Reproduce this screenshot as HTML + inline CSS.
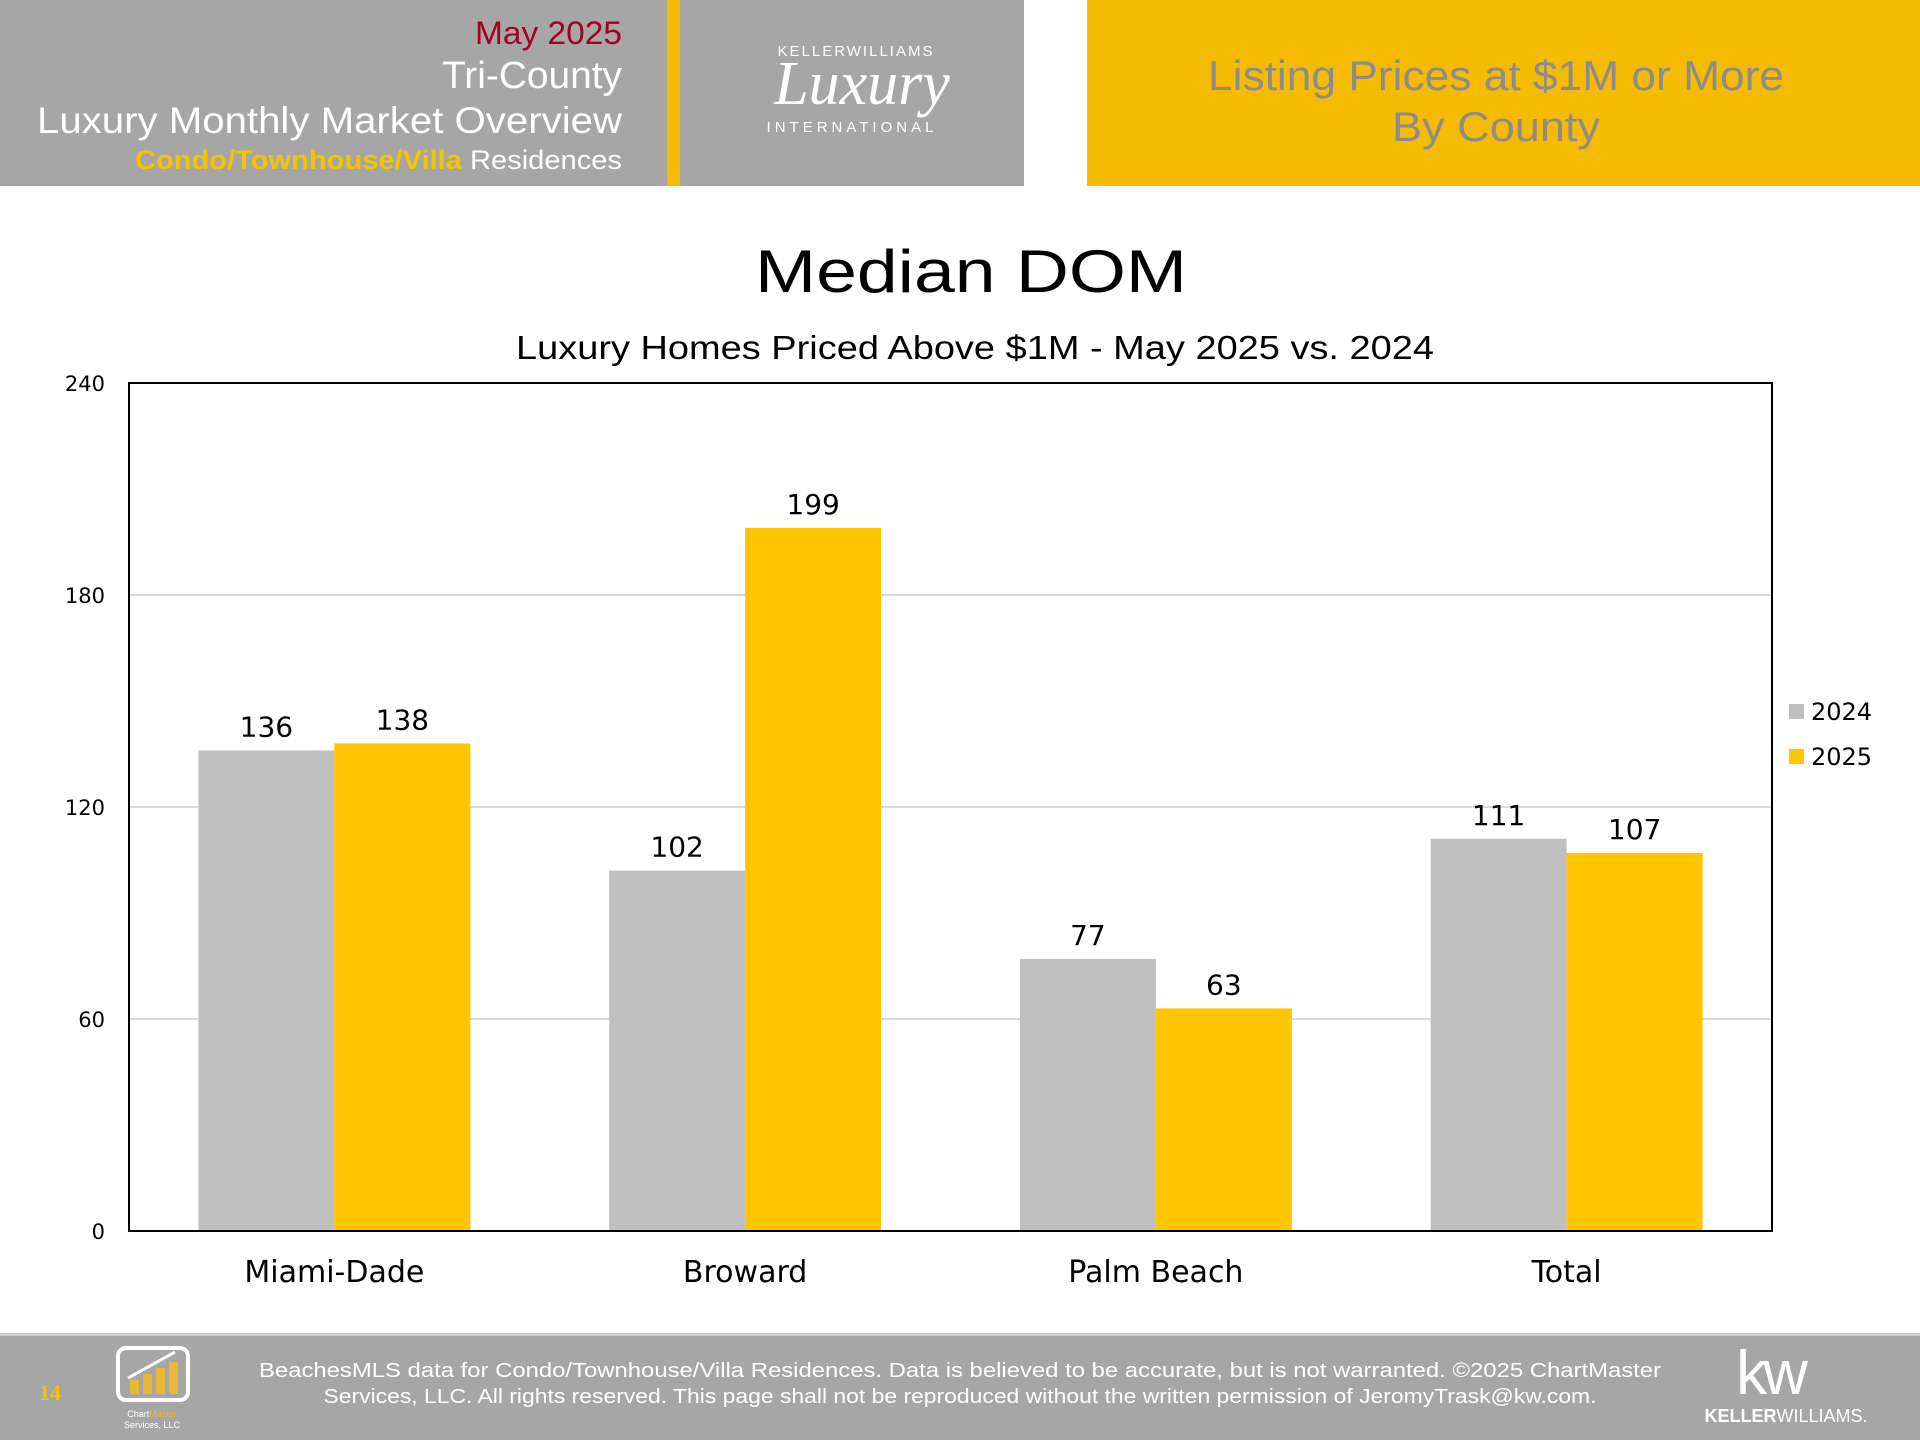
<!DOCTYPE html>
<html><head><meta charset="utf-8">
<style>
html,body{margin:0;padding:0;width:1920px;height:1440px;background:#fff;overflow:hidden;font-family:"Liberation Sans",sans-serif;}
svg{display:block}
</style></head>
<body>
<svg id="s" width="1920" height="1440" viewBox="0 0 1920 1440" xmlns="http://www.w3.org/2000/svg" font-family="Liberation Sans, sans-serif">
  <g>
    <rect x="0" y="0" width="1024" height="186" fill="#a6a6a6"/>
    <rect x="667" y="0" width="13" height="186" fill="#f5bb00"/>
    <text x="622" y="44" text-anchor="end" font-size="32" fill="#a50021" textLength="147" lengthAdjust="spacingAndGlyphs">May 2025</text>
    <text x="622" y="88" text-anchor="end" font-size="38" fill="#fff" textLength="180" lengthAdjust="spacingAndGlyphs">Tri-County</text>
    <text x="622" y="133" text-anchor="end" font-size="37" fill="#fff" textLength="585" lengthAdjust="spacingAndGlyphs">Luxury Monthly Market Overview</text>
    <text x="622" y="169" text-anchor="end" font-size="27" fill="#fff" textLength="487" lengthAdjust="spacingAndGlyphs"><tspan fill="#f5c400" font-weight="bold">Condo/Townhouse/Villa</tspan> Residences</text>
    <text x="856" y="56" text-anchor="middle" font-size="15" letter-spacing="2" fill="#fff">KELLERWILLIAMS</text>
    <text x="862" y="104" text-anchor="middle" font-size="62" font-family="Liberation Serif, serif" font-style="italic" fill="#fff">Luxury</text>
    <text x="852" y="132" text-anchor="middle" font-size="15" letter-spacing="4" fill="#fff">INTERNATIONAL</text>
    <rect x="1087" y="0" width="833" height="186" fill="#f5bb00"/>
    <text x="1496" y="90" text-anchor="middle" font-size="42" fill="#8c8c8c" textLength="576" lengthAdjust="spacingAndGlyphs">Listing Prices at $1M or More</text>
    <text x="1496" y="141" text-anchor="middle" font-size="42" fill="#8c8c8c" textLength="208" lengthAdjust="spacingAndGlyphs">By County</text>
  </g>
  <text x="971" y="292" text-anchor="middle" font-size="60" fill="#000" textLength="432" lengthAdjust="spacingAndGlyphs">Median DOM</text>
  <text x="975" y="359" text-anchor="middle" font-size="33" fill="#000" textLength="918" lengthAdjust="spacingAndGlyphs">Luxury Homes Priced Above $1M - May 2025 vs. 2024</text>
  <g id="chart" font-family="DejaVu Sans, sans-serif"></g>
  <g font-family="DejaVu Sans, sans-serif">
    <rect x="1789" y="704" width="15" height="15" fill="#bfbfbf"/>
    <text x="1811" y="720" font-size="24" fill="#000">2024</text>
    <rect x="1789" y="749" width="15" height="15" fill="#ffc600"/>
    <text x="1811" y="765" font-size="24" fill="#000">2025</text>
  </g>
  <g>
    <rect x="0" y="1333" width="1920" height="3" fill="#d0d0d0"/>
    <rect x="0" y="1336" width="1920" height="104" fill="#a6a6a6"/>
    <text x="50" y="1400" text-anchor="middle" font-size="22" font-family="Liberation Serif, serif" font-weight="bold" fill="#f5c400">14</text>
    <g>
      <rect x="118" y="1348" width="70" height="52" rx="8" fill="none" stroke="#fff" stroke-width="4"/>
      <rect x="130" y="1380" width="9" height="14" fill="#e8b832"/>
      <rect x="143" y="1374" width="9" height="20" fill="#e8b832"/>
      <rect x="156" y="1368" width="9" height="26" fill="#e8b832"/>
      <rect x="169" y="1362" width="9" height="32" fill="#e8b832"/>
      <path d="M128 1378 L175 1352" stroke="#fff" stroke-width="3"/>
      <text x="152" y="1417" text-anchor="middle" font-size="9" fill="#fff">Chart<tspan fill="#e8b832">Master</tspan></text>
      <text x="152" y="1428" text-anchor="middle" font-size="9" fill="#fff">Services, LLC</text>
    </g>
    <text x="960" y="1377" text-anchor="middle" font-size="20" fill="#fff" textLength="1402" lengthAdjust="spacingAndGlyphs">BeachesMLS data for Condo/Townhouse/Villa Residences.  Data is believed to be accurate, but is not warranted.   ©2025  ChartMaster</text>
    <text x="960" y="1403" text-anchor="middle" font-size="20" fill="#fff" textLength="1273" lengthAdjust="spacingAndGlyphs">Services, LLC.  All rights reserved. This page shall not be reproduced without the written permission of JeromyTrask@kw.com.</text>
    <text x="1770" y="1394" text-anchor="middle" font-size="62" fill="#fff" letter-spacing="-4">kw</text>
    <text x="1786" y="1422" text-anchor="middle" font-size="18" fill="#fff"><tspan font-weight="bold">KELLER</tspan>WILLIAMS.</text>
  </g>
</svg>
<script>
const categories = ["Miami-Dade","Broward","Palm Beach","Total"];
const values2024 = [136,102,77,111];
const values2025 = [138,199,63,107];
const yTicks = [0,60,120,180,240];
const yMax = 240;

const NS = "http://www.w3.org/2000/svg";
const g = document.getElementById("chart");
const L = 129, R = 1772, T = 383, B = 1231;
const groupW = (R - L) / categories.length;
const barW = groupW * 0.331;
function y(v){ return B - (v / yMax) * (B - T); }
function xGroup(i){ return L + groupW * i + groupW / 2; }
function mk(tag, attrs){ const e = document.createElementNS(NS, tag); for (const k in attrs) e.setAttribute(k, attrs[k]); g.appendChild(e); return e; }

yTicks.forEach(t => {
  if (t > 0 && t < yMax) {
    const ln = mk("line", {x1: L, x2: R, y1: y(t), y2: y(t), stroke: "#d9d9d9", "stroke-width": 2});
    
    
  }
  const tx = mk("text", {x: L - 24, y: y(t) + 8, "text-anchor": "end", "font-size": 21, fill: "#000"});
  tx.textContent = t;
  
  
});

categories.forEach((c, i) => {
  const cx = xGroup(i);
  [[values2024[i], "#bfbfbf", cx - barW, "2024"], [values2025[i], "#ffc600", cx, "2025"]].forEach(([v, col, x, yr]) => {
    const r = mk("rect", {x: x, y: y(v), width: barW, height: B - y(v), fill: col});
    
    
    const lb = mk("text", {x: x + barW / 2, y: y(v) - 14, "text-anchor": "middle", "font-size": 28, fill: "#000"});
    lb.textContent = v;
    
    
  });
  const cl = mk("text", {x: cx, y: 1282, "text-anchor": "middle", "font-size": 30, fill: "#000"});
  cl.textContent = c;
  
  
});

const frame = mk("rect", {x: L, y: T, width: R - L, height: B - T, fill: "none", stroke: "#000", "stroke-width": 2});


</script>
</body></html>
